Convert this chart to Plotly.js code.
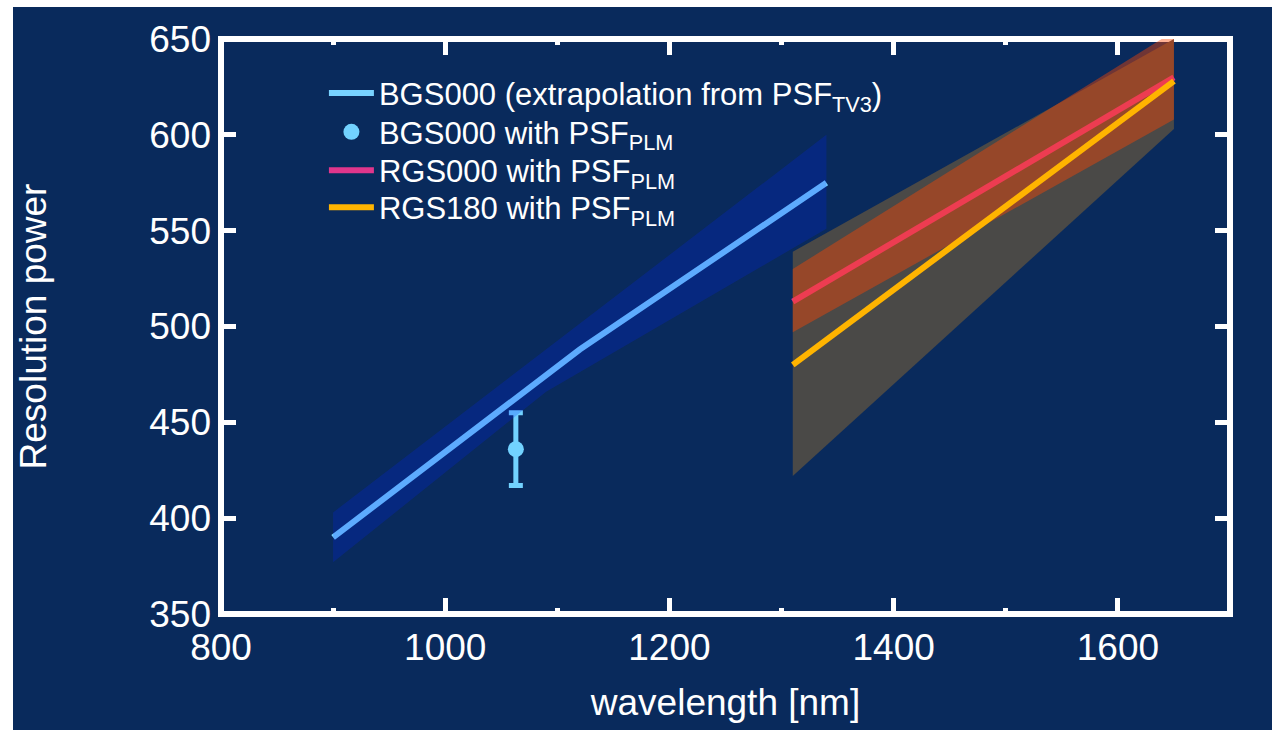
<!DOCTYPE html>
<html>
<head>
<meta charset="utf-8">
<script src="https://cdn.plot.ly/plotly-3.0.1.min.js"></script>
<style>
  html, body { margin: 0; padding: 0; background: #092a5c; width: 1272px; height: 730px; overflow: hidden; }
  #stripL { position: absolute; left: 0; top: 0; width: 13px; height: 730px; background: #ffffff; }
  #stripT { position: absolute; left: 0; top: 0; width: 1272px; height: 7px; background: #ffffff; }
  #chart { position: absolute; left: 13px; top: 7px; width: 1259px; height: 723px; }
</style>
</head>
<body>
<div id="stripL"></div>
<div id="stripT"></div>
<div id="chart"></div>
<script>
// ---- data ----
const bgsLineX = [900, 1120, 1340];
const bgsLineY = [390, 488, 575];

const bgsBandX = [900, 1090, 1340];
const bgsBandUpper = [403, 488, 600];
const bgsBandLower = [377, 466, 551];

const bgsPointX = [1063];
const bgsPointY = [436];
const bgsPointErr = [19];

const rgs000X = [1310, 1650];
const rgs000Y = [513, 630];

const rgs180X = [1310, 1650];
const rgs180Y = [480, 628];

const grayBandX = [1310, 1650];
const grayBandUpper = [539, 650];
const grayBandLower = [422, 603];

const redBandX = [1310, 1650];
const redBandUpper = [530, 654];
const redBandLower = [497, 608];

const legendNames = [
  "BGS000 (extrapolation from PSF<sub>TV3</sub>)",
  "BGS000 with PSF<sub>PLM</sub>",
  "RGS000 with PSF<sub>PLM</sub>",
  "RGS180 with PSF<sub>PLM</sub>"
];

function polyX(x) { return x.concat(x.slice().reverse()); }
function polyY(up, lo) { return up.concat(lo.slice().reverse()); }

const navy = '#092a5c';
const fontFamily = 'Liberation Sans, Arial, sans-serif';

const traces = [
  { x: polyX(grayBandX), y: polyY(grayBandUpper, grayBandLower), type: 'scatter', mode: 'lines',
    fill: 'toself', fillcolor: '#4a4947', line: { width: 0 }, showlegend: false, hoverinfo: 'skip' },
  { x: rgs000X, y: rgs000Y, type: 'scatter', mode: 'lines', name: legendNames[2], legend: 'legend3',
    line: { color: '#e0368c', width: 6 } },
  { x: polyX(redBandX), y: polyY(redBandUpper, redBandLower), type: 'scatter', mode: 'lines',
    fill: 'toself', fillcolor: 'rgba(255,69,0,0.42)', line: { width: 0 }, showlegend: false, hoverinfo: 'skip' },
  { x: rgs180X, y: rgs180Y, type: 'scatter', mode: 'lines', name: legendNames[3], legend: 'legend4',
    line: { color: '#ffb400', width: 6 } },
  { x: bgsLineX, y: bgsLineY, type: 'scatter', mode: 'lines', name: legendNames[0], legend: 'legend',
    line: { color: '#78d2ff', width: 6 } },
  { x: bgsPointX, y: bgsPointY, type: 'scatter', mode: 'markers', name: legendNames[1], legend: 'legend2',
    marker: { color: '#72d2ff', size: 16 },
    error_y: { type: 'data', array: bgsPointErr, visible: true, color: '#72d2ff', thickness: 5, width: 7 } },
  { x: polyX(bgsBandX), y: polyY(bgsBandUpper, bgsBandLower), type: 'scatter', mode: 'lines',
    fill: 'toself', fillcolor: 'rgba(0,36,252,0.225)', line: { width: 0 }, showlegend: false, hoverinfo: 'skip' }
];

const tickFont = { family: fontFamily, size: 37, color: '#ffffff' };

function legendAt(yPaper) {
  return {
    x: 0.102, y: yPaper, xanchor: 'left', yanchor: 'middle',
    bgcolor: 'rgba(0,0,0,0)', borderwidth: 0, itemwidth: 45,
    font: { family: fontFamily, size: 31, color: '#ffffff' }
  };
}

const layout = {
  width: 1259, height: 723,
  paper_bgcolor: navy, plot_bgcolor: navy,
  margin: { l: 208, r: 42, t: 32, b: 116 },
  showlegend: true,
  legend: legendAt(0.9055),
  legend2: legendAt(0.838),
  legend3: legendAt(0.771),
  legend4: legendAt(0.707),
  xaxis: {
    range: [800, 1700], dtick: 200, tick0: 800,
    showgrid: false, zeroline: false, showline: false,
    ticks: 'inside', ticklen: 16, tickwidth: 5, tickcolor: '#ffffff', mirror: 'ticks',
    minor: { dtick: 100, ticks: 'inside', ticklen: 6, tickwidth: 5, tickcolor: '#ffffff', showgrid: false },
    tickfont: tickFont, ticklabelstandoff: 8,
    title: { text: 'wavelength [nm]', font: tickFont, standoff: 22 }
  },
  yaxis: {
    range: [350, 650], dtick: 50, tick0: 350,
    showgrid: false, zeroline: false, showline: false,
    ticks: 'inside', ticklen: 15, tickwidth: 5, tickcolor: '#ffffff', mirror: 'ticks',
    tickfont: tickFont, ticklabelstandoff: 9,
    title: { text: 'Resolution power', font: tickFont, standoff: 95 }
  },
  shapes: [
    { type: 'rect', xref: 'paper', yref: 'paper', x0: 0, x1: 1, y0: 0, y1: 1,
      line: { color: '#ffffff', width: 6 }, fillcolor: 'rgba(0,0,0,0)', layer: 'below' }
  ]
};

Plotly.newPlot('chart', traces, layout, { displayModeBar: false, staticPlot: true });
</script>
</body>
</html>
